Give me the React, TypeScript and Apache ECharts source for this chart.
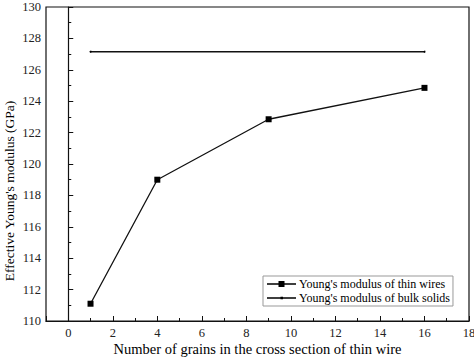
import React, { useEffect, useRef } from "react";
import * as echarts from "echarts";

const grains = [1, 4, 9, 16];
const thinWireModulus = [111.1, 119.0, 122.85, 124.85];
const bulkX = [1, 16];
const bulkModulus = [127.15, 127.15];
const seriesNames = ["Young's modulus of thin wires", "Young's modulus of bulk solids"];
const xTitle = "Number of grains in the cross section of thin wire";
const yTitle = "Effective Young's modulus (GPa)";

const FONT = "'Liberation Serif', 'Times New Roman', serif";

const ICON_SQUARE = "path://M0,5.8 L29,5.8 L29,7.2 L0,7.2 Z M11.5,3.5 L17.5,3.5 L17.5,9.5 L11.5,9.5 Z";
const ICON_DOT = "path://M0,5.8 L29,5.8 L29,7.2 L0,7.2 Z M13.5,5.3 L16,5.3 L16,7.7 L13.5,7.7 Z M0,3.5 L0.01,3.5 L0.01,9.5 L0,9.5 Z";

export default function App() {
  const ref = useRef<HTMLDivElement>(null);
  useEffect(() => {
    if (!ref.current) return;
    const chart = echarts.init(ref.current, null, { renderer: "svg" });
    const grid = { left: 46, right: 5, top: 7, bottom: 36 };
    chart.setOption({
      animation: false,
      backgroundColor: "#fff",
      textStyle: { fontFamily: FONT, color: "#000" },
      grid: {
        ...grid,
        containLabel: false,
        outerBoundsMode: "none",
        show: true,
        borderColor: "#111",
        borderWidth: 1.2,
        backgroundColor: "transparent",
      },
      graphic: [
        {
          type: "text",
          x: 257.5,
          y: 349,
          style: {
            text: xTitle,
            align: "center",
            verticalAlign: "middle",
            fontFamily: FONT,
            fontSize: 14.5,
            fill: "#000",
          },
        },
        {
          type: "text",
          x: 9,
          y: 191,
          rotation: Math.PI / 2,
          style: {
            text: yTitle,
            align: "center",
            verticalAlign: "middle",
            fontFamily: FONT,
            fontSize: 13.5,
            fill: "#000",
          },
        },
      ],
      legend: {
        orient: "vertical",
        left: 263,
        top: 276,
        padding: [2, 3, 2, 4],
        itemGap: 2,
        itemWidth: 29,
        itemHeight: 13,
        borderColor: "#999",
        borderWidth: 1,
        textStyle: { fontFamily: FONT, fontSize: 12, color: "#000", padding: [0, 0, 0, -2] },
        data: [
          { name: seriesNames[0], icon: ICON_SQUARE },
          { name: seriesNames[1], icon: ICON_DOT },
        ],
      },
      xAxis: [
        {
          type: "value",
          min: -1,
          max: 18,
          splitNumber: 10,
          minInterval: 2,
          maxInterval: 2,
          axisLine: { show: true, lineStyle: { color: "#111", width: 1.2 } },
          axisTick: { show: true, inside: true, length: 5, lineStyle: { color: "#111", width: 1 } },
          axisLabel: {
            fontFamily: FONT,
            fontSize: 12.5,
            color: "#222",
            margin: 5,
            formatter: (v: number) => (v < 0 ? "" : String(v)),
          },
          splitLine: { show: false },
        },
        {
          type: "value",
          min: -1,
          max: 18,
          interval: 1,
          position: "bottom",
          axisLine: { show: false },
          axisTick: { show: true, inside: true, length: 3, lineStyle: { color: "#111", width: 1 } },
          axisLabel: { show: false },
          splitLine: { show: false },
        },
      ],
      yAxis: {
        type: "value",
        min: 110,
        max: 130,
        interval: 2,
        axisLine: { show: true, lineStyle: { color: "#111", width: 1.2 } },
        axisTick: { show: true, inside: true, length: 5, lineStyle: { color: "#111", width: 1 } },
        minorTick: { show: true, splitNumber: 2, length: 3, lineStyle: { color: "#111", width: 1 } },
        axisLabel: { fontFamily: FONT, fontSize: 12.5, color: "#222", margin: 5 },
        splitLine: { show: false },
      },
      series: [
        {
          name: seriesNames[0],
          type: "line",
          data: grains.map((g, i) => [g, thinWireModulus[i]]),
          symbol: "rect",
          symbolSize: 6,
          itemStyle: { color: "#000" },
          lineStyle: { color: "#111", width: 1.3 },
        },
        {
          name: seriesNames[1],
          type: "line",
          data: bulkX.map((g, i) => [g, bulkModulus[i]]),
          symbol: "circle",
          symbolSize: 2,
          itemStyle: { color: "#000" },
          lineStyle: { color: "#111", width: 1.3 },
        },
      ],
    });
    return () => chart.dispose();
  }, []);
  return (
    <div
      ref={ref}
      style={{ position: "fixed", left: 0, top: 0, width: 474, height: 357, background: "#fff" }}
    />
  );
}
